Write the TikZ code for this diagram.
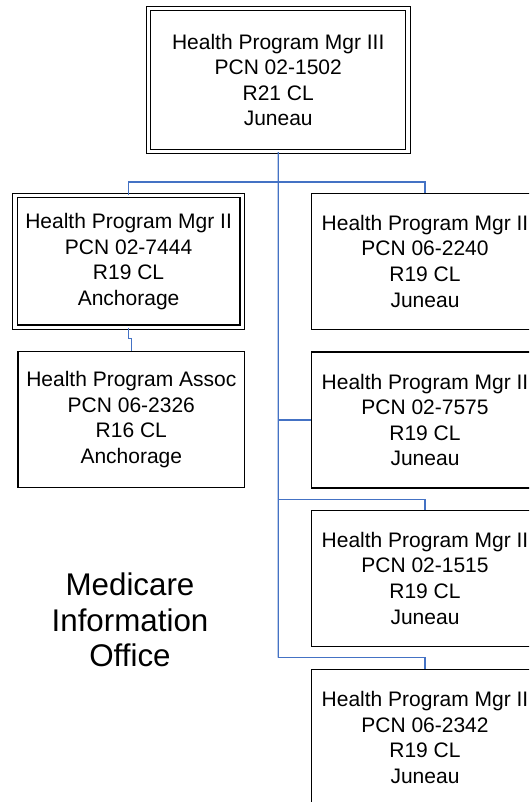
\documentclass[tikz,border=0pt]{standalone}
\usepackage{fontspec}
\setmainfont{Liberation Sans}

\begin{document}
\begin{tikzpicture}[x=0.75pt,y=0.75pt,yscale=-1,xscale=1,
  posbox/.style={draw=black, line width=1pt, inner sep=0pt, align=center,
    minimum width=170pt, minimum height=102pt,
    font=\fontsize{15.75}{19.2}\selectfont},
  dblbox/.style={posbox, double=white, double distance=2.4pt, line width=0.9pt},
  orgline/.style={draw={rgb, 255:red, 68; green, 114; blue, 196}, line width=1pt}]
\useasboundingbox (0,0) rectangle (529,802);
\clip (0,0) rectangle (529,802);

%Shape: Double Rectangle (top)
\node[dblbox, minimum width=194.8pt, minimum height=107.2pt] (hpm3) at (278.2,80)
  {Health Program Mgr III\\PCN 02-1502\\R21 CL\\Juneau};
%Shape: Double Rectangle (Anchorage)
\node[dblbox, minimum width=170.3pt, minimum height=98.6pt] (hpm7444) at (128.6,261.4)
  {Health Program Mgr II\\PCN 02-7444\\R19 CL\\Anchorage};
%Shape: Rectangle
\node[posbox] (hpa2326) at (131.3,419.7)
  {Health Program Assoc\\PCN 06-2326\\R16 CL\\Anchorage};
%Shape: Rectangle
\node[posbox] (hpm2240) at (425,261.2)
  {Health Program Mgr II\\PCN 06-2240\\R19 CL\\Juneau};
%Shape: Rectangle
\node[posbox] (hpm7575) at (425,420)
  {Health Program Mgr II\\PCN 02-7575\\R19 CL\\Juneau};
%Shape: Rectangle
\node[posbox] (hpm1515) at (425,578.2)
  {Health Program Mgr II\\PCN 02-1515\\R19 CL\\Juneau};
%Shape: Rectangle
\node[posbox] (hpm2342) at (425,737.3)
  {Health Program Mgr II\\PCN 06-2342\\R19 CL\\Juneau};

%Text Node
\node[align=center, font=\fontsize{23.5}{26.5}\selectfont] (mio) at (130,620)
  {Medicare\\Information\\Office};

%Junctions
\coordinate (bus1) at (278.3,182);
\coordinate (bus3) at (278.3,499.3);
\coordinate (bus4) at (278.3,657.5);

%Straight Lines
\draw[orgline] (hpm3.south) -- (bus4);
\draw[orgline] (bus1) -| (hpm7444.north);
\draw[orgline] (bus1) -| (hpm2240.north);
\draw[orgline] (hpm7444.south) -- ++(0,11) -| (hpa2326.north);
\draw[orgline] (hpm3.south |- hpm7575.west) -- (hpm7575.west);
\draw[orgline] (bus3) -| (hpm1515.north);
\draw[orgline] (bus4) -| (hpm2342.north);

\end{tikzpicture}
\end{document}
